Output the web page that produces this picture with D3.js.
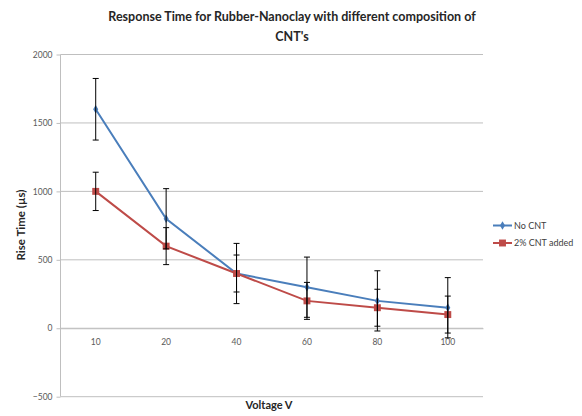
<!DOCTYPE html>
<html><head><meta charset="utf-8">
<script src="https://cdn.jsdelivr.net/npm/d3@7"></script>
<style>body{margin:0;background:#fff}svg{display:block}</style>
</head><body>
<svg id="c" width="582" height="416"></svg>
<script>
const categories = ["10","20","40","60","80","100"];
const seriesNames = ["No CNT","2% CNT added"];
const noCNT = [1600, 800, 400, 300, 200, 150];
const cnt2 = [1000, 600, 400, 200, 150, 100];
const errNoCNT = [225, 220, 220, 220, 220, 220];
const errCnt2 = [140, 135, 135, 135, 135, 135];
const yTicks = [-500, 0, 500, 1000, 1500, 2000];
const colors = ["#4A7EBB", "#BE4B48"];

const svg = d3.select("#c");
const L = 60.5, R = 483, T = 54.5, B = 396.7;
const x = d3.scaleBand().domain(categories).range([L, R]);
const y = d3.scaleLinear().domain([-500, 2000]).range([B, T]);
const font = "Lato, 'Liberation Sans', Arial, sans-serif";

// gridlines
svg.append("g").selectAll("line").data(yTicks).join("line")
  .attr("x1", L).attr("x2", R).attr("y1", d => y(d)).attr("y2", d => y(d))
  .attr("stroke", "#BFBFBF").attr("stroke-width", 1);
// y axis line
svg.append("line").attr("x1", L).attr("x2", L).attr("y1", T).attr("y2", B).attr("stroke", "#BFBFBF");
// y tick labels
const yAxis = d3.axisLeft(y).tickValues(yTicks).tickFormat(d3.format("d")).tickSize(4).tickPadding(4);
const gy = svg.append("g").attr("transform", `translate(${L},0)`).call(yAxis);
gy.select(".domain").remove();
gy.selectAll(".tick line").attr("stroke", "#BFBFBF");
gy.selectAll("text").attr("font-family", font).attr("font-size", 8.5).attr("fill", "#595959");

// x axis at zero
const xAxis = d3.axisBottom(x).tickSize(0).tickPadding(11);
const gx = svg.append("g").attr("transform", `translate(0,${y(0)})`).call(xAxis);
gx.select(".domain").attr("stroke", "#BFBFBF");
gx.selectAll("text").attr("font-family", font).attr("font-size", 8.5).attr("fill", "#595959");

const cx = d => x(d) + x.bandwidth() / 2;
const series = [
  {name: seriesNames[0], vals: noCNT, err: errNoCNT, color: colors[0], sym: d3.symbolDiamond, size: 22},
  {name: seriesNames[1], vals: cnt2, err: errCnt2, color: colors[1], sym: d3.symbolSquare, size: 48}
];
const line = d3.line().x((d, i) => cx(categories[i])).y(d => y(d));

series.forEach(s => {
  svg.append("path").datum(s.vals).attr("d", line).attr("fill", "none")
    .attr("stroke", s.color).attr("stroke-width", 2);
});
series.forEach(s => {
  svg.append("g").selectAll("path").data(s.vals).join("path")
    .attr("d", d3.symbol().type(s.sym).size(s.size))
    .attr("transform", (d, i) => `translate(${cx(categories[i])},${y(d)})`)
    .attr("fill", s.color);
});
// error bars
series.forEach(s => {
  const g = svg.append("g").attr("stroke", "#000").attr("stroke-width", 1);
  s.vals.forEach((v, i) => {
    const X = cx(categories[i]);
    g.append("line").attr("x1", X).attr("x2", X).attr("y1", y(v + s.err[i])).attr("y2", y(v - s.err[i]));
    [v + s.err[i], v - s.err[i]].forEach(e => {
      g.append("line").attr("x1", X - 3).attr("x2", X + 3).attr("y1", y(e)).attr("y2", y(e));
    });
  });
});

// title
svg.append("text").attr("x", 292).attr("y", 21).attr("text-anchor", "middle")
  .attr("font-family", font).attr("font-size", 12.5).attr("font-weight", "bold").attr("fill", "#262626")
  .text("Response Time for Rubber-Nanoclay with different composition of");
svg.append("text").attr("x", 292).attr("y", 41).attr("text-anchor", "middle")
  .attr("font-family", font).attr("font-size", 12.5).attr("font-weight", "bold").attr("fill", "#262626")
  .text("CNT's");
// axis titles
svg.append("text").attr("x", 269).attr("y", 409).attr("text-anchor", "middle")
  .attr("font-family", font).attr("font-size", 11).attr("font-weight", "bold").attr("fill", "#262626")
  .text("Voltage V");
svg.append("text").attr("transform", "translate(25,225) rotate(-90)").attr("text-anchor", "middle")
  .attr("font-family", font).attr("font-size", 11.5).attr("font-weight", "bold").attr("fill", "#262626")
  .text("Rise Time (µs)");

// legend
series.forEach((s, i) => {
  const ly = 225.5 + i * 17.5;
  svg.append("line").attr("x1", 493).attr("x2", 512).attr("y1", ly).attr("y2", ly)
    .attr("stroke", s.color).attr("stroke-width", 2);
  svg.append("path").attr("d", d3.symbol().type(s.sym).size(s.size))
    .attr("transform", `translate(502.5,${ly})`).attr("fill", s.color);
  svg.append("text").attr("x", 514).attr("y", ly + 3).attr("font-family", font)
    .attr("font-size", 9).attr("fill", "#404040").text(s.name);
});
</script>
</body></html>
